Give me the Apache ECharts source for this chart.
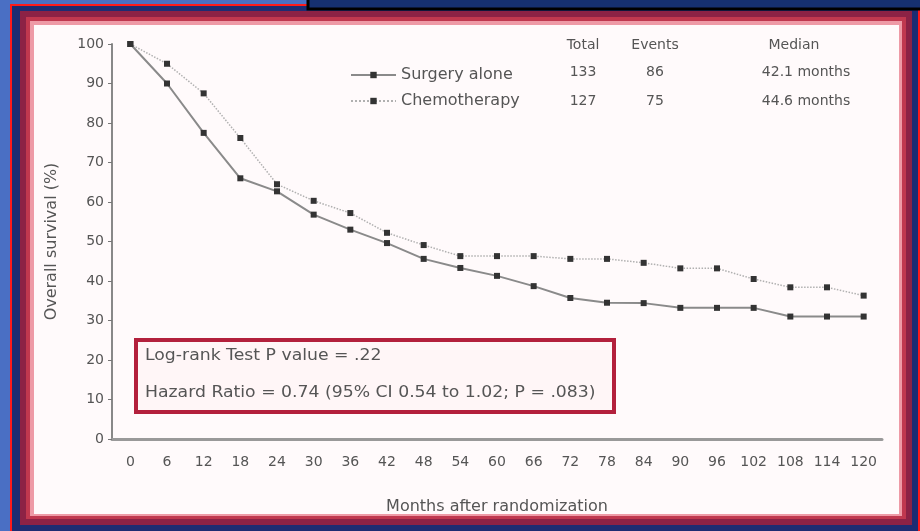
<!DOCTYPE html>
<html>
<head>
<meta charset="utf-8">
<script src="https://cdn.jsdelivr.net/npm/echarts@6/dist/echarts.min.js"></script>
<style>
  html, body { margin: 0; padding: 0; background: #4a6fc4; }
  #chart { width: 920px; height: 531px; }
</style>
</head>
<body>
<div id="chart"></div>
<script>
  // months after randomization
  const months = ['0', '6', '12', '18', '24', '30', '36', '42', '48', '54', '60',
    '66', '72', '78', '84', '90', '96', '102', '108', '114', '120']
  // overall survival (%)
  const surgeryAlone = [100, 90, 77.5, 66, 62.7, 56.8, 53, 49.6, 45.6, 43.3, 41.3,
    38.7, 35.7, 34.5, 34.4, 33.2, 33.2, 33.2, 31, 31, 31]
  const chemotherapy = [100, 95, 87.5, 76.2, 64.5, 60.3, 57.2, 52.2, 49.1, 46.3, 46.3,
    46.3, 45.6, 45.6, 44.6, 43.2, 43.2, 40.5, 38.4, 38.4, 36.3]
  const yTicks = [0, 100, 10]
  const tableHeader = ['Total', 'Events', 'Median']
  const surgeryRow = ['133', '86', '42.1 months']
  const chemoRow = ['127', '75', '44.6 months']

  const font = 'DejaVu Sans, sans-serif'
  const textColor = '#555'

  function cell(text, x, y, align, size, sx) {
    return {
      type: 'text', x: x, y: y, z: 10, scaleX: sx || 1,
      style: {
        text: text, fill: textColor, font: (size || 14) + 'px ' + font,
        textAlign: align || 'center', textVerticalAlign: 'middle'
      }
    }
  }

  const chart = echarts.init(document.getElementById('chart'))
  chart.setOption({
    backgroundColor: '#4a6fc4',
    animation: false,
    textStyle: { fontFamily: font },
    graphic: [
      // slide frame
      { type: 'rect', z: -10, shape: { x: 10, y: 4, width: 910, height: 530 }, style: { fill: '#ff1a1a' } },
      { type: 'rect', z: -9, shape: { x: 12, y: 6, width: 906, height: 530 }, style: { fill: '#1d2c72' } },
      { type: 'rect', z: -8, shape: { x: 20, y: 11, width: 892, height: 514 }, style: { fill: '#8c2245' } },
      { type: 'rect', z: -7, shape: { x: 26, y: 17, width: 880, height: 502 }, style: { fill: '#c0384f' } },
      { type: 'rect', z: -6, shape: { x: 30, y: 21, width: 872, height: 495 }, style: { fill: '#ee9aa6' } },
      { type: 'rect', z: -5, shape: { x: 34, y: 25, width: 865, height: 489 }, style: { fill: '#fffafb' } },
      { type: 'rect', z: -4, shape: { x: 308, y: -6, width: 620, height: 15 }, style: { fill: '#163070', stroke: '#000', lineWidth: 3 } },
      // table beside legend
      cell(tableHeader[0], 583, 45),
      cell(tableHeader[1], 655, 45),
      cell(tableHeader[2], 794, 45),
      cell(surgeryRow[0], 583, 72),
      cell(surgeryRow[1], 655, 72),
      cell(surgeryRow[2], 806, 72),
      cell(chemoRow[0], 583, 101),
      cell(chemoRow[1], 655, 101),
      cell(chemoRow[2], 806, 101),
      // statistics box
      {
        type: 'rect', z: 9, shape: { x: 136, y: 340, width: 478, height: 72 },
        style: { fill: '#fff6f7', stroke: '#b3203c', lineWidth: 4 }
      },
      cell('Log-rank Test P value = .22', 145, 356, 'left', 15, 1.15),
      cell('Hazard Ratio = 0.74 (95% CI 0.54 to 1.02; P = .083)', 145, 393, 'left', 15, 1.15)
    ],
    legend: {
      orient: 'vertical',
      left: 345,
      top: 62,
      itemWidth: 45,
      itemHeight: 8,
      itemGap: 10,
      textStyle: { color: textColor, fontSize: 16 },
      data: ['Surgery alone', 'Chemotherapy']
    },
    grid: { left: 112, right: 38, top: 44, bottom: 92 },
    xAxis: {
      type: 'category',
      data: months,
      boundaryGap: true,
      name: 'Months after randomization',
      nameLocation: 'middle',
      nameGap: 60,
      nameTextStyle: { color: textColor, fontSize: 16 },
      axisLine: { lineStyle: { color: '#999', width: 3 } },
      axisTick: { alignWithLabel: true, length: 3, lineStyle: { color: '#555' } },
      axisLabel: { color: textColor, fontSize: 14, margin: 16 }
    },
    yAxis: {
      type: 'value',
      min: yTicks[0],
      max: yTicks[1],
      interval: yTicks[2],
      name: 'Overall survival (%)',
      nameLocation: 'middle',
      nameGap: 52,
      nameTextStyle: { color: textColor, fontSize: 16 },
      axisLine: { show: true, lineStyle: { color: '#888', width: 2 } },
      axisTick: { show: true, length: 4, lineStyle: { color: '#777' } },
      axisLabel: { color: textColor, fontSize: 14, margin: 8 },
      splitLine: { show: false }
    },
    series: [
      {
        name: 'Surgery alone',
        type: 'line',
        data: surgeryAlone,
        symbol: 'rect',
        symbolSize: 6,
        itemStyle: { color: '#333' },
        lineStyle: { color: '#8a8a8a', width: 2 }
      },
      {
        name: 'Chemotherapy',
        type: 'line',
        data: chemotherapy,
        symbol: 'rect',
        symbolSize: 6,
        itemStyle: { color: '#333' },
        lineStyle: { color: '#b0b0b0', width: 1.5, type: 'dotted' }
      }
    ]
  })
</script>
</body>
</html>
